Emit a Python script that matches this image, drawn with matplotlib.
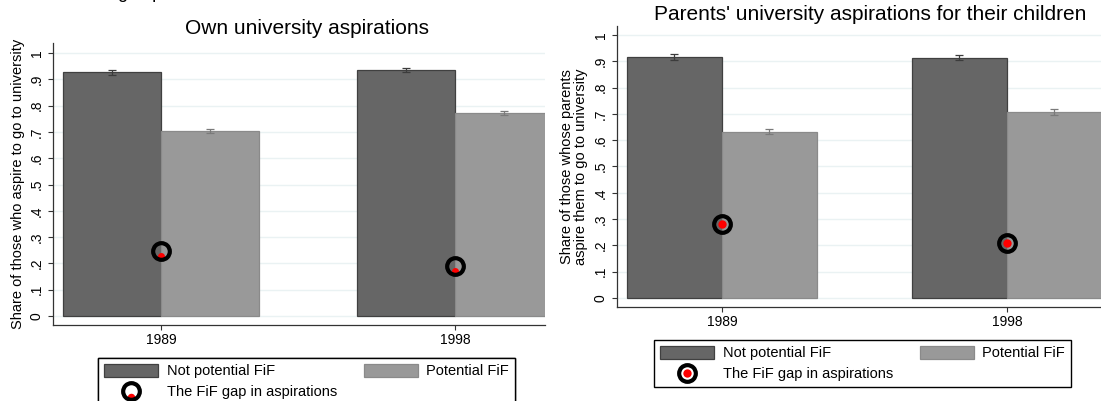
import numpy as np
import matplotlib.pyplot as plt
from matplotlib.lines import Line2D
from matplotlib.patches import Patch
from matplotlib.path import Path
from matplotlib.legend_handler import HandlerTuple

plt.rcParams['font.family'] = ['Liberation Sans', 'DejaVu Sans']

# data
years = ["1989", "1998"]
ytick_labels = ["0", ".1", ".2", ".3", ".4", ".5", ".6", ".7", ".8", ".9", "1"]

own_not = [0.926, 0.936]
own_not_err = [0.011, 0.008]
own_pot = [0.704, 0.772]
own_pot_err = [0.008, 0.009]
own_gap_dot = [0.228, 0.171]
own_gap_ring = [0.247, 0.190]

par_not = [0.916, 0.914]
par_not_err = [0.012, 0.011]
par_pot = [0.633, 0.708]
par_pot_err = [0.010, 0.011]
par_gap = [0.283, 0.208]

dark = "#666666"
light = "#999999"
grid_c = "#eaf2f3"
axis_c = "#333333"

fig = plt.figure(figsize=(11.01, 4.01), dpi=100)
ax1 = fig.add_axes([53/1101, 1 - 325/401, 492/1101, 282/401])
ax2 = fig.add_axes([617/1101, 1 - 307/401, 484/1101, 281/401])

x = np.arange(len(years))
w = 0.333

# red dot pushed down inside the ring, used in the left legend
circ = Path.unit_circle()
low_dot = Path(circ.vertices + np.array([0, -1.6]), circ.codes)


def draw_panel(ax, not_v, not_e, pot_v, pot_e, xlim, ylim):
    ax.bar(x - w/2, not_v, w, color=dark, edgecolor="#404040", linewidth=0.9, zorder=2)
    ax.bar(x + w/2, pot_v, w, color=light, edgecolor="#8a8a8a", linewidth=0.9, zorder=2)
    ax.errorbar(x - w/2, not_v, yerr=not_e, fmt='none', ecolor="#3c3c3c",
                elinewidth=0.9, capsize=3, capthick=0.9, zorder=3)
    ax.errorbar(x + w/2, pot_v, yerr=pot_e, fmt='none', ecolor="#7a7a7a",
                elinewidth=0.9, capsize=3, capthick=0.9, zorder=3)
    ax.set_xlim(*xlim)
    ax.set_ylim(*ylim)
    ax.set_xticks(x)
    ax.set_xticklabels(years, fontsize=10)
    ax.set_yticks(np.arange(0, 1.01, 0.1))
    ax.set_yticklabels(ytick_labels, fontsize=10, rotation=90, va='center')
    ax.grid(axis='y', color=grid_c, linewidth=1.0, zorder=0)
    ax.set_axisbelow(True)
    for s in ['top', 'right']:
        ax.spines[s].set_visible(False)
    for s in ['left', 'bottom']:
        ax.spines[s].set_color(axis_c)
        ax.spines[s].set_linewidth(0.9)
    ax.tick_params(axis='both', colors=axis_c, length=3.6, width=0.8, labelcolor='black')
    ax.tick_params(axis='y', pad=3)
    ax.tick_params(axis='x', pad=2.5)


# left panel: own aspirations
draw_panel(ax1, own_not, own_not_err, own_pot, own_pot_err, (-0.367, 1.306), (-0.034, 1.038))
ax1.plot(x, own_gap_dot, 'o', color='red', ms=5, mew=0, zorder=4)
ax1.plot(x, own_gap_ring, 'o', mfc='none', mec='black', ms=12, mew=3, zorder=5)
ax1.set_ylabel("Share of those who aspire to go to university", fontsize=10.5)
ax1.yaxis.set_label_coords(-0.057, 0.5)
fig.text(307/1101, 1 - 28/401, "Own university aspirations", fontsize=15,
         ha='center', va='center')

# right panel: parents' aspirations
draw_panel(ax2, par_not, par_not_err, par_pot, par_pot_err, (-0.368, 1.33), (-0.034, 1.034))
ax2.plot(x, par_gap, 'o', mfc='none', mec='black', ms=12, mew=3, zorder=4)
ax2.plot(x, par_gap, 'o', color='red', ms=6, mew=0, zorder=5)
ax2.set_ylabel("Share of those whose parents\naspire them to go to university",
               fontsize=10.5, linespacing=1.0)
ax2.yaxis.set_label_coords(-0.059, 0.5)
fig.text(870/1101, 1 - 15/401, "Parents' university aspirations for their children",
         fontsize=15, ha='center', va='center')

# bit of a cut-off heading at the very top
fig.text(118/1101, 1 + 2/401, "g aspi", fontsize=13, ha='left', va='baseline')

# legends
def make_legend(anchor, dot_marker, dot_ms):
    h_not = Patch(facecolor=dark, edgecolor="#404040", linewidth=0.9)
    h_pot = Patch(facecolor=light, edgecolor="#8a8a8a", linewidth=0.9)
    h_dot = Line2D([], [], marker=dot_marker, ls='none', color='red', ms=dot_ms, mew=0)
    h_ring = Line2D([], [], marker='o', ls='none', mfc='none', mec='black', ms=12, mew=3)
    leg = fig.legend([h_not, (h_dot, h_ring), h_pot],
                     ["Not potential FiF", "The FiF gap in aspirations", "Potential FiF"],
                     handler_map={tuple: HandlerTuple(ndivide=1)},
                     ncol=2, loc='upper left', bbox_to_anchor=anchor,
                     bbox_transform=fig.transFigure, borderaxespad=0,
                     fontsize=10.5, frameon=True, fancybox=False, framealpha=1,
                     edgecolor='black', handlelength=3.7, handleheight=1.0,
                     handletextpad=0.6, columnspacing=1.85, borderpad=0.4,
                     labelspacing=0.45)
    leg.get_frame().set_linewidth(1.0)
    return leg


leg1 = make_legend((98/1101, 1 - 358/401), low_dot, 14)
leg2 = make_legend((654/1101, 1 - 340/401), 'o', 6)
fig.add_artist(leg1)

fig.savefig("out.png", dpi=100)
